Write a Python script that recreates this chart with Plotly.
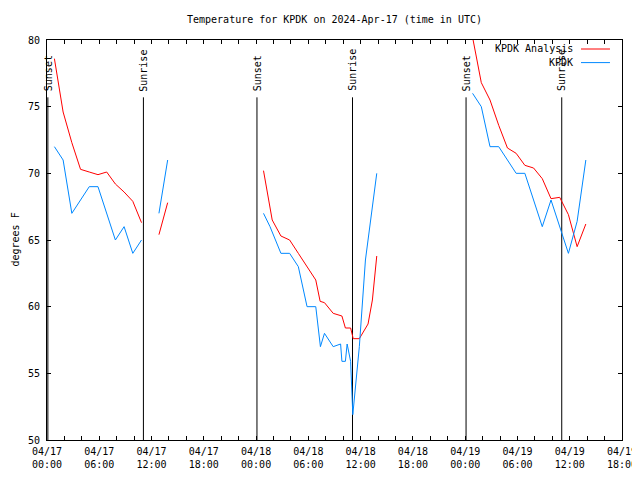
import plotly.graph_objects as go

# ---------------- data ----------------
# KPDK Analysis (red) segments: times (UTC) and temperatures (F)
ana_t1 = ["2024-04-17 00:51", "2024-04-17 01:51", "2024-04-17 02:51", "2024-04-17 03:51",
          "2024-04-17 04:51", "2024-04-17 05:51", "2024-04-17 06:51", "2024-04-17 07:51",
          "2024-04-17 08:51", "2024-04-17 09:51", "2024-04-17 10:51"]
ana_v1 = [78.6, 74.6, 72.3, 70.3, 70.1, 69.9, 70.1, 69.2, 68.6, 67.9, 66.3]
ana_t2 = ["2024-04-17 12:51", "2024-04-17 13:51"]
ana_v2 = [65.4, 67.8]
ana_t3 = ["2024-04-18 00:51", "2024-04-18 01:51", "2024-04-18 02:51", "2024-04-18 03:51",
          "2024-04-18 04:51", "2024-04-18 05:51", "2024-04-18 06:51", "2024-04-18 07:21",
          "2024-04-18 07:51", "2024-04-18 08:51", "2024-04-18 09:51", "2024-04-18 10:15",
          "2024-04-18 10:51", "2024-04-18 11:09", "2024-04-18 11:51", "2024-04-18 12:51",
          "2024-04-18 13:21", "2024-04-18 13:51"]
ana_v3 = [70.2, 66.5, 65.3, 65.0, 64.0, 63.0, 62.0, 60.4, 60.3, 59.5, 59.3, 58.4,
          58.4, 57.6, 57.6, 58.7, 60.5, 63.8]
ana_t4 = ["2024-04-19 00:51", "2024-04-19 01:51", "2024-04-19 02:51", "2024-04-19 03:51",
          "2024-04-19 04:51", "2024-04-19 05:51", "2024-04-19 06:51", "2024-04-19 07:51",
          "2024-04-19 08:51", "2024-04-19 09:51", "2024-04-19 10:51", "2024-04-19 11:51",
          "2024-04-19 12:51", "2024-04-19 13:51"]
ana_v4 = [80.2, 76.8, 75.5, 73.6, 71.9, 71.5, 70.6, 70.4, 69.6, 68.1, 68.2, 66.9, 64.5, 66.2]

# KPDK observations (blue) segments
obs_t1 = ["2024-04-17 00:51", "2024-04-17 01:51", "2024-04-17 02:51", "2024-04-17 03:51",
          "2024-04-17 04:51", "2024-04-17 05:51", "2024-04-17 06:51", "2024-04-17 07:51",
          "2024-04-17 08:51", "2024-04-17 09:51", "2024-04-17 10:51"]
obs_v1 = [72, 71, 67, 68, 69, 69, 67, 65, 66, 64, 65]
obs_t2 = ["2024-04-17 12:51", "2024-04-17 13:51"]
obs_v2 = [67, 71]
obs_t3 = ["2024-04-18 00:51", "2024-04-18 01:36", "2024-04-18 02:51", "2024-04-18 03:51",
          "2024-04-18 04:51", "2024-04-18 05:51", "2024-04-18 06:51", "2024-04-18 07:23",
          "2024-04-18 07:51", "2024-04-18 08:51", "2024-04-18 09:42", "2024-04-18 09:51",
          "2024-04-18 10:15", "2024-04-18 10:27", "2024-04-18 10:51", "2024-04-18 11:06",
          "2024-04-18 11:51", "2024-04-18 12:33", "2024-04-18 13:51"]
obs_v3 = [67, 66, 64, 64, 63, 60, 60, 57, 58, 57, 57.2, 55.9, 55.9, 57.2, 55.9, 51.9,
          57.0, 63.5, 70]
obs_t4 = ["2024-04-19 00:51", "2024-04-19 01:51", "2024-04-19 02:51", "2024-04-19 03:51",
          "2024-04-19 04:51", "2024-04-19 05:51", "2024-04-19 06:51", "2024-04-19 07:51",
          "2024-04-19 08:51", "2024-04-19 09:51", "2024-04-19 10:51", "2024-04-19 11:51",
          "2024-04-19 12:51", "2024-04-19 13:51"]
obs_v4 = [76, 75, 72, 72, 71, 70, 70, 68, 66, 68, 66, 64, 66.4, 71]

# sunrise / sunset events
sun_times = ["2024-04-17 00:06", "2024-04-17 11:04", "2024-04-18 00:06",
             "2024-04-18 11:04", "2024-04-19 00:06", "2024-04-19 11:05"]
sun_labels = ["Sunset", "Sunrise", "Sunset", "Sunrise", "Sunset", "Sunrise"]
sun_line_range = [50, 75.7]
sun_label_y = 76.0

# x tick positions (every 2 h) and labels (every 6 h)
tick_vals = []
tick_text = []
for d in ["17", "18", "19"]:
    for h in range(0, 24, 2):
        if d == "19" and h > 18:
            continue
        tick_vals.append(f"2024-04-{d} {h:02d}:00")
        tick_text.append(f"04/{d}<br>{h:02d}:00" if h % 6 == 0 else "")

y_ticks = [50, 55, 60, 65, 70, 75, 80]

def join(segs):
    out_t, out_v = [], []
    for i, (t, v) in enumerate(segs):
        if i:
            out_t.append(None)
            out_v.append(None)
        out_t += t
        out_v += v
    return out_t, out_v

ana_t, ana_v = join([(ana_t1, ana_v1), (ana_t2, ana_v2), (ana_t3, ana_v3), (ana_t4, ana_v4)])
obs_t, obs_v = join([(obs_t1, obs_v1), (obs_t2, obs_v2), (obs_t3, obs_v3), (obs_t4, obs_v4)])

RED = "#ff0000"
BLUE = "#0088ff"
FONT = "DejaVu Sans Mono"
W, H = 632, 464  # page body has an 8px margin on each side
L, R, T, B = 39, 18, 32, 32

fig = go.Figure()

# sun lines
for t in sun_times:
    fig.add_trace(go.Scatter(x=[t, t], y=sun_line_range, mode="lines",
                             line=dict(color="black", width=1),
                             showlegend=False, hoverinfo="skip"))

fig.add_trace(go.Scatter(x=ana_t, y=ana_v, mode="lines", name="KPDK Analysis",
                         line=dict(color=RED, width=1), connectgaps=False))
fig.add_trace(go.Scatter(x=obs_t, y=obs_v, mode="lines", name="KPDK",
                         line=dict(color=BLUE, width=1), connectgaps=False))

for t, lab in zip(sun_times, sun_labels):
    fig.add_annotation(x=t, y=sun_label_y, xref="x", yref="y", text=lab,
                       textangle=-90, showarrow=False, xanchor="center",
                       yanchor="bottom", font=dict(family=FONT, size=10, color="black"))

# manual gnuplot-style legend (text left, sample right)
legend_items = [("KPDK Analysis", RED, 0.9775), ("KPDK", BLUE, 0.9435)]
for name, col, yy in legend_items:
    fig.add_annotation(x=0.9175, y=yy, xref="paper", yref="paper", text=name,
                       showarrow=False, xanchor="right", yanchor="middle",
                       font=dict(family=FONT, size=10, color="black"))
    fig.add_shape(type="line", xref="paper", yref="paper", x0=0.9287, x1=0.9791,
                  y0=yy, y1=yy, line=dict(color=col, width=1))

# y-axis title (anchored at the left edge of the figure)
fig.add_annotation(x=-L / 575, y=0.5, xref="paper", yref="paper", text="degrees F",
                   textangle=-90, showarrow=False, xanchor="left", yanchor="middle",
                   borderpad=0,
                   font=dict(family=FONT, size=10, color="black"))

fig.update_layout(
    width=W, height=H,
    margin=dict(l=L, r=R, t=T, b=B, autoexpand=False),
    paper_bgcolor="white", plot_bgcolor="white",
    showlegend=False,
    font=dict(family=FONT, size=10, color="black"),
    title=dict(text="Temperature for KPDK on 2024-Apr-17 (time in UTC)",
               x=0.5, xref="paper", y=1 - 11 / H, yref="container",
               xanchor="center", yanchor="middle",
               font=dict(family=FONT, size=10, color="black")),
)
fig.update_xaxes(type="date", range=["2024-04-17 00:00", "2024-04-19 18:00"],
                 tickmode="array", tickvals=tick_vals, ticktext=tick_text,
                 ticks="inside", ticklen=4, tickcolor="black", automargin=False,
                 showline=True, linecolor="black", linewidth=1, mirror="ticks",
                 showgrid=False, zeroline=False, ticklabelstandoff=2,
                 ticklabeloverflow="allow",
                 tickfont=dict(family=FONT, size=10, color="black"))
fig.update_yaxes(range=[50, 80], tickmode="array", tickvals=y_ticks,
                 ticks="inside", ticklen=4, tickcolor="black", automargin=False,
                 showline=True, linecolor="black", linewidth=1, mirror="ticks",
                 showgrid=False, zeroline=False, ticklabelstandoff=4,
                 tickfont=dict(family=FONT, size=10, color="black"))

fig.write_html("out.html")
